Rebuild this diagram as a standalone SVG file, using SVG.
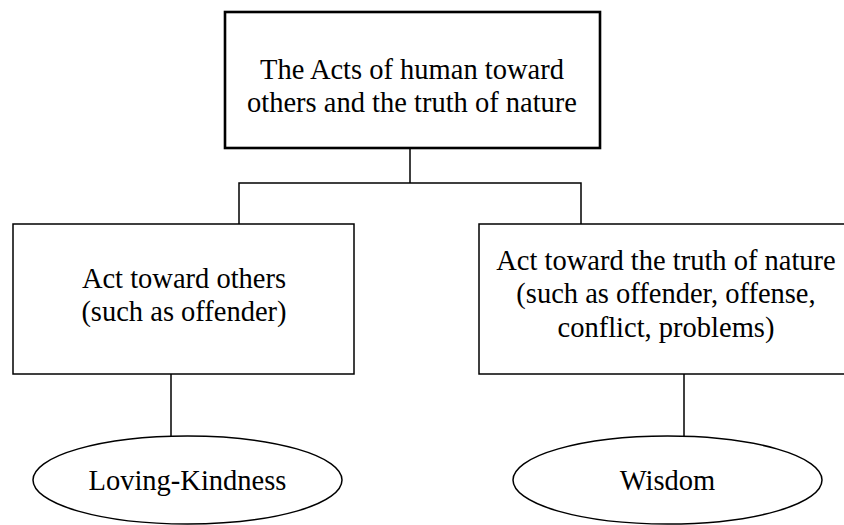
<svg xmlns="http://www.w3.org/2000/svg" width="844" height="525" viewBox="0 0 844 525">
  <style>
    .box { fill: #ffffff; stroke: #000000; stroke-width: 1.5; }
    .root { stroke-width: 2.6; }
    .oval { fill: #ffffff; stroke: #000000; stroke-width: 1.5; }
    .link { fill: none; stroke: #000000; stroke-width: 1.5; }
    text { font-family: "Liberation Serif", "Times New Roman", serif; font-size: 28.5px; fill: #000000; text-anchor: middle; }
  </style>
  <rect width="844" height="525" fill="#ffffff"/>

  <!-- connectors -->
  <g id="connectors">
    <polyline class="link" points="410,148 410,183"/>
    <polyline class="link" points="239,224 239,183 581,183 581,224"/>
    <line class="link" x1="171" y1="374" x2="171" y2="436"/>
    <line class="link" x1="684" y1="374" x2="684" y2="436"/>
  </g>

  <g id="root">
    <rect class="box root" x="225" y="12" width="375" height="136"/>
    <text x="412" y="79">The Acts of human toward</text>
    <text x="412" y="112">others and the truth of nature</text>
  </g>

  <g id="others">
    <rect class="box" x="13" y="224" width="341" height="150"/>
    <text x="184" y="288">Act toward others</text>
    <text x="184" y="321">(such as offender)</text>
  </g>

  <g id="nature">
    <rect class="box" x="479" y="224" width="380" height="150"/>
    <text x="666" y="270">Act toward the truth of nature</text>
    <text x="666" y="303">(such as offender, offense,</text>
    <text x="666" y="337">conflict, problems)</text>
  </g>

  <g id="loving-kindness">
    <ellipse class="oval" cx="187.5" cy="480" rx="154.5" ry="44"/>
    <text x="187.5" y="490">Loving-Kindness</text>
  </g>

  <g id="wisdom">
    <ellipse class="oval" cx="667.5" cy="480" rx="154.5" ry="44"/>
    <text x="667.5" y="490">Wisdom</text>
  </g>
</svg>
